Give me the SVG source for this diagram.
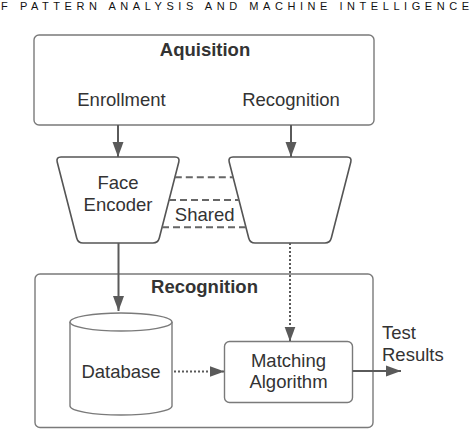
<svg xmlns="http://www.w3.org/2000/svg" width="472" height="430" viewBox="0 0 472 430">
<defs>
<style>
.t{font-family:"Liberation Sans",Arial,sans-serif;font-size:18.5px;fill:#333;}
.b{font-weight:bold;}
.box{fill:#fff;stroke:#7a7a7a;stroke-width:1.4;}
.enc{fill:#fff;stroke:#555;stroke-width:1.6;}
.c{fill:none;stroke:#5a5a5a;stroke-width:2;}
.dash{fill:none;stroke:#666;stroke-width:2;stroke-dasharray:7 4;}
.dot{fill:none;stroke:#5a5a5a;stroke-width:2;stroke-dasharray:2 2;}
</style>
<marker id="ah" markerUnits="userSpaceOnUse" markerWidth="16" markerHeight="12" refX="15" refY="6" orient="auto">
<path d="M0,0.5 L15,6 L0,11.5 Z" fill="#5a5a5a"/>
</marker>
</defs>
<rect width="472" height="430" fill="#fff"/>
<text x="1" y="10" style="font-family:'Liberation Sans',Arial,sans-serif;font-size:11px;fill:#111" textLength="468" lengthAdjust="spacing">F PATTERN ANALYSIS AND MACHINE INTELLIGENCE</text>

<g id="acquisition">
<rect class="box" x="34" y="35" width="340" height="90" rx="5"/>
<text class="t b" x="205" y="56" text-anchor="middle">Aquisition</text>
<text class="t" x="121.5" y="106" text-anchor="middle">Enrollment</text>
<text class="t" x="291" y="106" text-anchor="middle">Recognition</text>
</g>

<g id="recognition-box">
<rect class="box" x="35" y="274" width="338" height="153.5" rx="5"/>
<text class="t b" x="204.5" y="292.5" text-anchor="middle">Recognition</text>
</g>

<g id="face-encoder">
<path class="enc" d="M61,157 L175,157 Q180,157 178.8,162 L159.3,238 Q158,243 153,243 L83,243 Q78,243 76.7,238 L57.2,162 Q56,157 61,157 Z"/>
<text class="t" x="118" y="188.5" text-anchor="middle">Face</text>
<text class="t" x="118" y="210.5" text-anchor="middle">Encoder</text>
</g>

<g id="shared-encoder">
<path class="enc" d="M233,157 L347,157 Q352,157 350.8,162 L331.3,238 Q330,243 325,243 L255,243 Q250,243 248.7,238 L229.2,162 Q228,157 233,157 Z"/>
</g>

<g id="database">
<path class="box" d="M70,322 L70,406 A51,9 0 0 0 172,406 L172,322"/>
<ellipse class="box" cx="121" cy="322" rx="51" ry="9"/>
<text class="t" x="121" y="378" text-anchor="middle">Database</text>
</g>

<g id="matching">
<rect class="box" x="224.5" y="341.5" width="128" height="61" rx="5"/>
<text class="t" x="288.5" y="367.3" text-anchor="middle">Matching</text>
<text class="t" x="288.5" y="388.3" text-anchor="middle">Algorithm</text>
</g>

<g id="connectors">
<line class="c" x1="118" y1="125" x2="118" y2="157" marker-end="url(#ah)"/>
<line class="c" x1="291" y1="125" x2="291" y2="157" marker-end="url(#ah)"/>
<line class="dash" x1="174.8" y1="177.3" x2="233.2" y2="177.3"/>
<line class="dash" x1="169" y1="200" x2="239" y2="200"/>
<line class="dash" x1="162" y1="227.3" x2="246" y2="227.3"/>
<line class="c" x1="118.5" y1="243" x2="118.5" y2="311" marker-end="url(#ah)"/>
<line class="dot" x1="290" y1="243" x2="290" y2="341.5" marker-end="url(#ah)"/>
<line class="dot" x1="174" y1="371.5" x2="224.5" y2="371.5" marker-end="url(#ah)"/>
<line class="c" x1="352.5" y1="371" x2="401" y2="371" marker-end="url(#ah)"/>
</g>
<text class="t" x="382" y="339.3">Test</text>
<text class="t" x="382" y="361">Results</text>
<text class="t" x="204.7" y="220.7" text-anchor="middle">Shared</text>
</svg>
